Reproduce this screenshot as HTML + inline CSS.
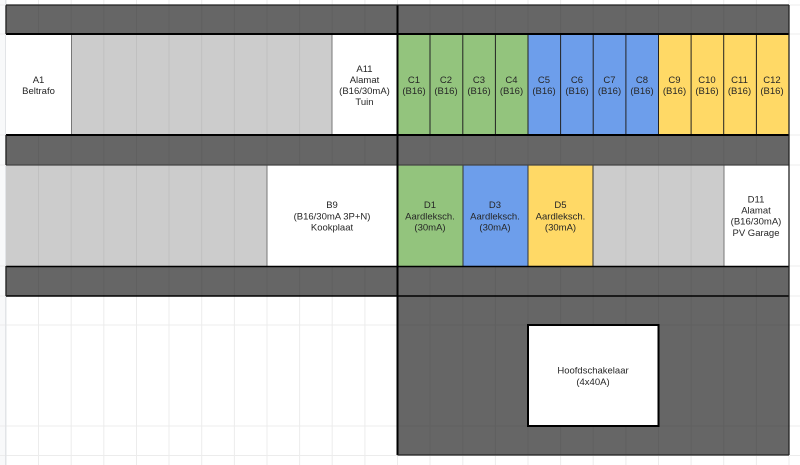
<!DOCTYPE html>
<html><head><meta charset="utf-8"><style>
html,body{margin:0;padding:0;background:#fff;width:800px;height:465px;overflow:hidden}
svg{display:block}
text{font-family:"Liberation Sans",Arial,sans-serif;font-size:9.5px;fill:#262626;text-anchor:middle}
</style></head><body>
<svg width="800" height="465" viewBox="0 0 800 465" xmlns="http://www.w3.org/2000/svg">
<rect width="800" height="465" fill="#fff"/>
<rect x="0" y="0" width="6" height="465" fill="#f8f9fa"/>
<path d="M38.5 0V465M71.2 0V465M103.8 0V465M136.5 0V465M169 0V465M201.7 0V465M234.4 0V465M267 0V465M299.6 0V465M332.2 0V465M364.9 0V465M397.5 0V465M430 0V465M462.8 0V465M495.4 0V465M528 0V465M560.6 0V465M593.2 0V465M625.9 0V465M658.5 0V465M691.1 0V465M723.7 0V465M756.4 0V465M789 0V465M0 5H800M0 34H800M0 135H800M0 165H800M0 266H800M0 296H800M0 325H800M0 426H800M0 455.5H800" stroke="#ececec" stroke-width="1" fill="none"/>
<rect x="5" y="0" width="1.5" height="465" fill="#e2e4e7"/>
<!-- dark bands -->
<rect x="6" y="5" width="783" height="29" fill="#666"/>
<rect x="6" y="135" width="783" height="30" fill="#666"/>
<rect x="6" y="266" width="783" height="30" fill="#666"/>
<rect x="397.5" y="296" width="391.5" height="159" fill="#666"/>
<!-- grey -->
<rect x="71" y="34" width="261" height="101" fill="#ccc"/>
<rect x="6" y="165" width="261" height="101" fill="#ccc"/>
<rect x="593" y="165" width="131" height="101" fill="#ccc"/>
<!-- coloured -->
<rect x="397.5" y="34" width="130.5" height="101" fill="#93c47d"/>
<rect x="528" y="34" width="130.5" height="101" fill="#6d9eeb"/>
<rect x="658.5" y="34" width="130.5" height="101" fill="#ffd966"/>
<rect x="397.5" y="165" width="65.5" height="101" fill="#93c47d"/>
<rect x="463" y="165" width="65" height="101" fill="#6d9eeb"/>
<rect x="528" y="165" width="65" height="101" fill="#ffd966"/>
<!-- white -->
<rect x="6" y="34" width="65" height="101" fill="#fff"/>
<rect x="332" y="34" width="65.5" height="101" fill="#fff"/>
<rect x="267" y="165" width="130.5" height="101" fill="#fff"/>
<rect x="724" y="165" width="65" height="101" fill="#fff"/>
<!-- grid inside dark -->
<path d="M38.5 5V34M71.2 5V34M103.8 5V34M136.5 5V34M169 5V34M201.7 5V34M234.4 5V34M267 5V34M299.6 5V34M332.2 5V34M364.9 5V34M430 5V34M462.8 5V34M495.4 5V34M528 5V34M560.6 5V34M593.2 5V34M625.9 5V34M658.5 5V34M691.1 5V34M723.7 5V34M756.4 5V34M38.5 135V165M71.2 135V165M103.8 135V165M136.5 135V165M169 135V165M201.7 135V165M234.4 135V165M267 135V165M299.6 135V165M332.2 135V165M364.9 135V165M430 135V165M462.8 135V165M495.4 135V165M528 135V165M560.6 135V165M593.2 135V165M625.9 135V165M658.5 135V165M691.1 135V165M723.7 135V165M756.4 135V165M38.5 266V296M71.2 266V296M103.8 266V296M136.5 266V296M169 266V296M201.7 266V296M234.4 266V296M267 266V296M299.6 266V296M332.2 266V296M364.9 266V296M430 266V455M462.8 266V455M495.4 266V455M528 266V455M560.6 266V455M593.2 266V455M625.9 266V455M658.5 266V455M691.1 266V455M723.7 266V455M756.4 266V455M397.5 325H789M397.5 426H789" stroke="#606060" stroke-width="1" fill="none"/>
<!-- grid inside grey -->
<path d="M103.8 34V135M136.5 34V135M169 34V135M201.7 34V135M234.4 34V135M267 34V135M299.6 34V135M38.5 165V266M71.2 165V266M103.8 165V266M136.5 165V266M169 165V266M201.7 165V266M234.4 165V266M625.9 165V266M658.5 165V266M691.1 165V266" stroke="#c0c0c0" stroke-width="1" fill="none"/>
<!-- cell dividers -->
<path d="M430 34V135M462.8 34V135M495.4 34V135M560.6 34V135M593.2 34V135M625.9 34V135M691.1 34V135M723.7 34V135M756.4 34V135M528 34V135M658.5 34V135" stroke="#222" stroke-width="1" fill="none"/>
<path d="M463 165V266M528 165V266M593 165V266" stroke="#333" stroke-width="1" fill="none"/>
<path d="M71.5 34V135M332 34V135M267 165V266M724 165V266" stroke="#777" stroke-width="1" fill="none"/>
<!-- heavy borders -->
<path d="M6 34H789M6 135H789" stroke="#000" stroke-width="2" fill="none"/>
<path d="M6 165H789" stroke="#444" stroke-width="1.2" fill="none"/>
<path d="M6 266.5H789M6 296H789" stroke="#000" stroke-width="1.5" fill="none"/>
<path d="M397.5 5V455" stroke="#000" stroke-width="2" fill="none"/>
<path d="M6 5H789M6 5.2V34M6 135V165M6 266V296M789 5V135M789 135V455M397.5 455H789" stroke="#222" stroke-width="1.3" fill="none"/>
<rect x="528" y="325" width="130.500" height="101" fill="#fff" stroke="#000" stroke-width="2"/>
<!-- labels -->
<text x="38.500" y="83">A1</text><text x="38.500" y="94">Beltrafo</text>
<text x="364.500" y="72">A11</text><text x="364.500" y="83">Alamat</text><text x="364.500" y="94">(B16/30mA)</text><text x="364.500" y="105">Tuin</text>
<text x="414" y="83">C1</text><text x="414" y="94">(B16)</text>
<text x="446" y="83">C2</text><text x="446" y="94">(B16)</text>
<text x="479" y="83">C3</text><text x="479" y="94">(B16)</text>
<text x="511.500" y="83">C4</text><text x="511.500" y="94">(B16)</text>
<text x="544" y="83">C5</text><text x="544" y="94">(B16)</text>
<text x="577" y="83">C6</text><text x="577" y="94">(B16)</text>
<text x="609.500" y="83">C7</text><text x="609.500" y="94">(B16)</text>
<text x="642" y="83">C8</text><text x="642" y="94">(B16)</text>
<text x="674.500" y="83">C9</text><text x="674.500" y="94">(B16)</text>
<text x="707" y="83">C10</text><text x="707" y="94">(B16)</text>
<text x="739.500" y="83">C11</text><text x="739.500" y="94">(B16)</text>
<text x="772" y="83">C12</text><text x="772" y="94">(B16)</text>
<text x="332" y="208">B9</text><text x="332" y="219.500">(B16/30mA 3P+N)</text><text x="332" y="230.500">Kookplaat</text>
<text x="430" y="208">D1</text><text x="430" y="219.500">Aardleksch.</text><text x="430" y="230.500">(30mA)</text>
<text x="495" y="208">D3</text><text x="495" y="219.500">Aardleksch.</text><text x="495" y="230.500">(30mA)</text>
<text x="560.500" y="208">D5</text><text x="560.500" y="219.500">Aardleksch.</text><text x="560.500" y="230.500">(30mA)</text>
<text x="756" y="202.500">D11</text><text x="756" y="213.500">Alamat</text><text x="756" y="224.500">(B16/30mA)</text><text x="756" y="236">PV Garage</text>
<text x="593" y="373.500">Hoofdschakelaar</text><text x="593" y="385">(4x40A)</text>
</svg>
</body></html>
